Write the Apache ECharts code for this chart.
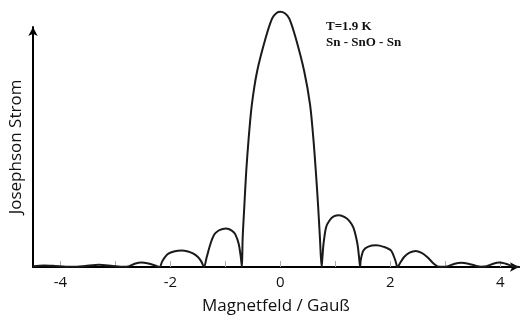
<!DOCTYPE html>
<html>
<head>
<meta charset="utf-8">
<title>Josephson Strom</title>
<script src="https://cdn.jsdelivr.net/npm/echarts@6/dist/echarts.min.js"></script>
<style>
    body { margin: 0; background: #fff; }
    #main { width: 524px; height: 320px; }
</style>
</head>
<body>
<div id="main"></div>
<script>
// Magnetfeld in Gauß
var feld = [
    -4.5, -4.3, -4.1, -3.9, -3.7, -3.55, -3.3, -3.05, -2.85, -2.75, -2.65, -2.53, -2.4, -2.28, -2.2,
    -2.15, -2.1, -2.03, -1.92, -1.8, -1.68, -1.59, -1.5, -1.44, -1.39,
    -1.34, -1.27, -1.2, -1.13, -1.05, -0.99, -0.93, -0.87, -0.82, -0.76, -0.72, -0.7,
    -0.687, -0.655, -0.622, -0.578, -0.52, -0.425, -0.27, -0.15, -0.07, 0,
    0.08, 0.16, 0.28, 0.435, 0.54, 0.6, 0.645, 0.685, 0.72, 0.75,
    0.765, 0.785, 0.83, 0.89, 0.97, 1.07, 1.17, 1.26, 1.33, 1.4, 1.43, 1.45,
    1.46, 1.51, 1.6, 1.74, 1.88, 2.01, 2.09, 2.13,
    2.17, 2.25, 2.35, 2.46, 2.57, 2.67, 2.79, 2.86,
    2.95, 3.05, 3.17, 3.29, 3.42, 3.55, 3.65, 3.75, 3.87, 3.98, 4.1, 4.22, 4.3, 4.4
];
// Josephson Strom (relativ, Maximum = 100)
var strom = [
    0.3, 0.6, 0.4, 0.1, 0.1, 0.4, 0.9, 0.4, 0.05, 0.3, 1.3, 1.8, 1.4, 0.6, 0,
    2.2, 3.9, 5.3, 6.2, 6.5, 6.1, 5.3, 3.9, 2.2, 0,
    3.9, 9.2, 12.8, 14.2, 14.9, 15.1, 14.8, 14.0, 12.8, 9.2, 3.9, 0,
    11.0, 24.3, 37.3, 50.2, 63.5, 76.5, 89.6, 97.4, 99.5, 100,
    99.4, 97.4, 89.6, 76.5, 63.5, 50.2, 37.3, 24.3, 11.0, 0,
    3.9, 9.2, 15.5, 18.1, 19.8, 20.3, 19.5, 17.9, 15.3, 9.2, 3.9, 0,
    2.6, 6.5, 8.0, 8.5, 7.9, 6.5, 2.6, 0,
    1.3, 3.9, 5.6, 6.3, 5.5, 3.9, 1.3, 0.2,
    0.05, 0.3, 1.3, 1.7, 1.3, 0.5, 0.1, 0.3, 1.3, 1.8, 1.3, 0.4, 0.1, 0
];
var tickWerte = [-4, -3, -2, -1, 0, 1, 2, 3, 4];
var labelWerte = [-4, -2, 0, 2, 4];
var notizen = ['T=1.9 K', 'Sn - SnO - Sn'];

var punkte = [];
for (var i = 0; i < feld.length; i++) {
    punkte.push([feld[i], strom[i]]);
}

var option = {
    animation: false,
    backgroundColor: '#fff',
    grid: {
        left: 31,
        right: 5,
        top: 27,
        bottom: 53
    },
    xAxis: {
        type: 'value',
        min: -4.5,
        max: 4.34,
        name: 'Magnetfeld / Gauß',
        nameLocation: 'middle',
        nameGap: 31,
        nameTextStyle: {
            color: '#111',
            fontFamily: 'Open Sans',
            fontSize: 17
        },
        axisLine: {
            onZero: false,
            symbol: ['none', 'arrow'],
            symbolSize: [7, 9],
            lineStyle: { color: '#000', width: 2 }
        },
        axisTick: {
            inside: true,
            length: 6,
            customValues: tickWerte,
            lineStyle: { color: '#aaa', width: 1 }
        },
        axisLabel: {
            margin: 8,
            customValues: labelWerte,
            color: '#111',
            fontFamily: 'Open Sans',
            fontSize: 15
        },
        splitLine: { show: false }
    },
    yAxis: {
        type: 'value',
        min: 0,
        max: 94,
        name: 'Josephson Strom',
        nameLocation: 'middle',
        nameRotate: 90,
        nameGap: 8,
        nameTextStyle: {
            color: '#111',
            fontFamily: 'Open Sans',
            fontSize: 17
        },
        axisLine: {
            show: true,
            onZero: false,
            symbol: ['none', 'arrow'],
            symbolSize: [7, 9],
            lineStyle: { color: '#000', width: 2 }
        },
        axisTick: { show: false },
        axisLabel: { show: false },
        splitLine: { show: false }
    },
    graphic: [{
        type: 'text',
        left: 326,
        top: 20,
        style: {
            text: notizen[0],
            font: 'bold 13px "Liberation Serif"',
            fill: '#111'
        }
    }, {
        type: 'text',
        left: 326,
        top: 36,
        style: {
            text: notizen[1],
            font: 'bold 13px "Liberation Serif"',
            fill: '#111'
        }
    }],
    series: [{
        type: 'line',
        data: punkte,
        smooth: 0.3,
        clip: false,
        showSymbol: false,
        lineStyle: { color: '#1a1a1a', width: 2 }
    }]
};

var chart = echarts.init(document.getElementById('main'));
chart.setOption(option);
</script>
</body>
</html>
